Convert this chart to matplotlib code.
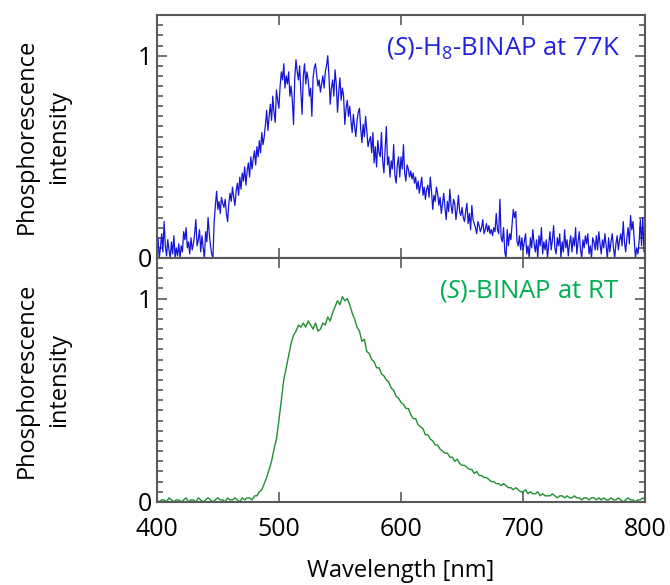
import numpy as np
import matplotlib.pyplot as plt
from matplotlib.ticker import MultipleLocator

plt.rcParams['font.family'] = ['Open Sans', 'DejaVu Sans']
plt.rcParams['mathtext.fontset'] = 'custom'
plt.rcParams['mathtext.rm'] = 'Open Sans'
plt.rcParams['mathtext.it'] = 'Open Sans:italic'

# (S)-H8-BINAP at 77K, read every 1 nm from 400 to 800 nm
int_77k = [
    0.02, 0.10, 0.00, 0.05, 0.12, 0.03, 0.18, 0.06, 0.01, 0.09, 0.04, 0.00, 0.08, 0.02, 0.11, 0.00, 0.05, 0.01, 0.07, 0.00,
    0.06, 0.03, 0.13, 0.09, 0.15, 0.05, 0.08, 0.02, 0.10, 0.04, 0.07, 0.12, 0.19, 0.06, 0.09, 0.14, 0.03, 0.11, 0.05, 0.00,
    0.13, 0.08, 0.20, 0.12, 0.06, 0.02, 0.00, 0.18, 0.26, 0.33, 0.24, 0.28, 0.22, 0.30, 0.27, 0.25, 0.29, 0.22, 0.18, 0.27,
    0.32, 0.28, 0.35, 0.30, 0.26, 0.33, 0.37, 0.31, 0.40, 0.34, 0.42, 0.38, 0.45, 0.36, 0.43, 0.47, 0.40, 0.50, 0.44, 0.49,
    0.53, 0.46, 0.55, 0.50, 0.58, 0.52, 0.62, 0.56, 0.60, 0.66, 0.73, 0.63, 0.70, 0.76, 0.68, 0.80, 0.72, 0.67, 0.83, 0.78,
    0.74, 0.85, 0.92, 0.88, 0.96, 0.84, 0.90, 0.86, 0.92, 0.80, 0.85, 0.78, 0.66, 0.89, 0.98, 0.92, 0.88, 0.95, 0.82, 0.71,
    0.90, 0.96, 0.86, 0.92, 0.88, 0.80, 0.84, 0.70, 0.89, 0.94, 0.96, 0.90, 0.85, 0.88, 0.82, 0.86, 0.90, 0.84, 0.92, 0.95,
    1.00, 0.90, 0.76, 0.84, 0.88, 0.80, 0.93, 0.86, 0.72, 0.82, 0.89, 0.78, 0.84, 0.80, 0.66, 0.74, 0.78, 0.70, 0.75, 0.68,
    0.62, 0.71, 0.65, 0.60, 0.68, 0.72, 0.74, 0.64, 0.57, 0.66, 0.60, 0.70, 0.63, 0.55, 0.58, 0.60, 0.52, 0.62, 0.47, 0.55,
    0.45, 0.58, 0.52, 0.50, 0.62, 0.48, 0.42, 0.54, 0.65, 0.46, 0.50, 0.40, 0.48, 0.44, 0.56, 0.41, 0.37, 0.46, 0.50, 0.40,
    0.50, 0.44, 0.56, 0.42, 0.38, 0.46, 0.44, 0.40, 0.43, 0.39, 0.42, 0.37, 0.40, 0.34, 0.38, 0.32, 0.36, 0.40, 0.31, 0.35,
    0.29, 0.34, 0.36, 0.30, 0.40, 0.33, 0.24, 0.31, 0.28, 0.35, 0.32, 0.26, 0.30, 0.22, 0.27, 0.32, 0.25, 0.19, 0.28, 0.23,
    0.34, 0.26, 0.22, 0.29, 0.27, 0.19, 0.24, 0.31, 0.23, 0.21, 0.25, 0.20, 0.18, 0.23, 0.27, 0.17, 0.22, 0.14, 0.26, 0.19,
    0.17, 0.15, 0.12, 0.18, 0.16, 0.13, 0.15, 0.19, 0.12, 0.14, 0.17, 0.13, 0.16, 0.12, 0.14, 0.11, 0.15, 0.13, 0.22, 0.14,
    0.12, 0.29, 0.10, 0.08, 0.15, 0.03, 0.00, 0.14, 0.06, 0.12, 0.09, 0.17, 0.24, 0.20, 0.23, 0.08, 0.06, 0.11, 0.04, 0.10,
    0.04, 0.08, 0.12, 0.02, 0.06, 0.00, 0.10, 0.05, 0.14, 0.07, 0.03, 0.09, 0.00, 0.11, 0.06, 0.15, 0.02, 0.08, 0.04, 0.09,
    0.00, 0.07, 0.13, 0.04, 0.09, 0.16, 0.05, 0.02, 0.10, 0.06, 0.12, 0.00, 0.08, 0.03, 0.14, 0.05, 0.09, 0.01, 0.07, 0.11,
    0.03, 0.10, 0.06, 0.15, 0.02, 0.08, 0.13, 0.04, 0.00, 0.09, 0.05, 0.11, 0.07, 0.12, 0.02, 0.06, 0.00, 0.10, 0.08, 0.04,
    0.11, 0.04, 0.13, 0.07, 0.02, 0.09, 0.05, 0.12, 0.06, 0.00, 0.10, 0.03, 0.08, 0.12, 0.05, 0.00, 0.07, 0.11, 0.04, 0.09,
    0.12, 0.06, 0.18, 0.08, 0.03, 0.10, 0.15, 0.07, 0.21, 0.14, 0.18, 0.09, 0.00, 0.05, 0.02, 0.08, 0.19, 0.06, 0.20, 0.03,
    0.05,
]
wl_77k = 400 + np.arange(len(int_77k))

# (S)-BINAP at RT, read every 2 nm from 400 to 800 nm
int_rt = [
    0.01, 0.00, 0.01, 0.01, 0.00, 0.02, 0.01, 0.00, 0.01, 0.01, 0.00, 0.01, 0.02, 0.00, 0.01, 0.01, 0.00, 0.02, 0.01, 0.00,
    0.01, 0.02, 0.01, 0.00, 0.01, 0.02, 0.01, 0.01, 0.00, 0.02, 0.01, 0.01, 0.02, 0.01, 0.00, 0.02, 0.01, 0.02, 0.02, 0.01,
    0.03, 0.03, 0.05, 0.06, 0.09, 0.12, 0.16, 0.20, 0.26, 0.31, 0.40, 0.50, 0.60, 0.66, 0.72, 0.78, 0.82, 0.84, 0.87, 0.86,
    0.88, 0.86, 0.89, 0.87, 0.85, 0.88, 0.84, 0.85, 0.88, 0.87, 0.91, 0.89, 0.93, 0.96, 0.99, 0.97, 1.01, 0.99, 1.00, 0.97,
    0.93, 0.90, 0.86, 0.84, 0.79, 0.80, 0.74, 0.73, 0.70, 0.69, 0.66, 0.66, 0.63, 0.62, 0.60, 0.59, 0.56, 0.55, 0.52, 0.51,
    0.49, 0.48, 0.46, 0.46, 0.43, 0.41, 0.41, 0.38, 0.37, 0.36, 0.33, 0.33, 0.31, 0.30, 0.28, 0.28, 0.26, 0.25, 0.24, 0.24,
    0.22, 0.22, 0.20, 0.21, 0.19, 0.18, 0.18, 0.17, 0.16, 0.16, 0.14, 0.15, 0.13, 0.13, 0.12, 0.12, 0.11, 0.10, 0.10, 0.09,
    0.09, 0.08, 0.09, 0.08, 0.07, 0.07, 0.06, 0.07, 0.06, 0.05, 0.05, 0.06, 0.04, 0.05, 0.04, 0.04, 0.05, 0.03, 0.04, 0.03,
    0.03, 0.03, 0.04, 0.03, 0.02, 0.03, 0.03, 0.02, 0.03, 0.02, 0.02, 0.03, 0.02, 0.02, 0.01, 0.02, 0.02, 0.01, 0.02, 0.02,
    0.01, 0.02, 0.01, 0.02, 0.01, 0.01, 0.02, 0.01, 0.01, 0.02, 0.01, 0.00, 0.01, 0.02, 0.01, 0.01, 0.00, 0.01, 0.01, 0.02,
    0.01,
]
wl_rt = 400 + 2 * np.arange(len(int_rt))

spine_col = '#595959'

fig = plt.figure(figsize=(6.7, 5.85), dpi=100)
ax1 = fig.add_axes([0.234, 0.559, 0.729, 0.415])
ax2 = fig.add_axes([0.234, 0.142, 0.729, 0.417])

ax1.plot(wl_77k, int_77k, color='#1515d6', lw=0.9)
ax2.plot(wl_rt, int_rt, color='#1f8f2f', lw=1.0)

for ax in (ax1, ax2):
    ax.set_xlim(400, 800)
    ax.set_ylim(0, 1.2)
    ax.set_yticks([0, 1])
    ax.yaxis.set_minor_locator(MultipleLocator(0.05))
    ax.set_xticks([400, 500, 600, 700, 800])
    ax.tick_params(which='both', direction='in', top=True, right=True,
                   color=spine_col, labelsize=18, width=1.2)
    ax.tick_params(which='major', length=7)
    ax.tick_params(which='minor', length=4)
    ax.tick_params(axis='x', pad=11)
    for s in ax.spines.values():
        s.set_color(spine_col)
        s.set_linewidth(1.5)
    ax.set_ylabel('Phosphorescence\nintensity', fontsize=17, linespacing=1.5)
    ax.yaxis.set_label_coords(-0.175, 0.5)

ax1.tick_params(labelbottom=False)
ax2.set_xlabel('Wavelength [nm]', fontsize=17, labelpad=12)

ax1.text(779, 1.04, r'($\it{S}$)-H$_8$-BINAP at 77K', color='#2222e0',
         fontsize=18.5, ha='right', va='center')
ax2.text(779, 1.04, r'($\it{S}$)-BINAP at RT', color='#00b050',
         fontsize=18.5, ha='right', va='center')

plt.savefig('out.png', dpi=100)
